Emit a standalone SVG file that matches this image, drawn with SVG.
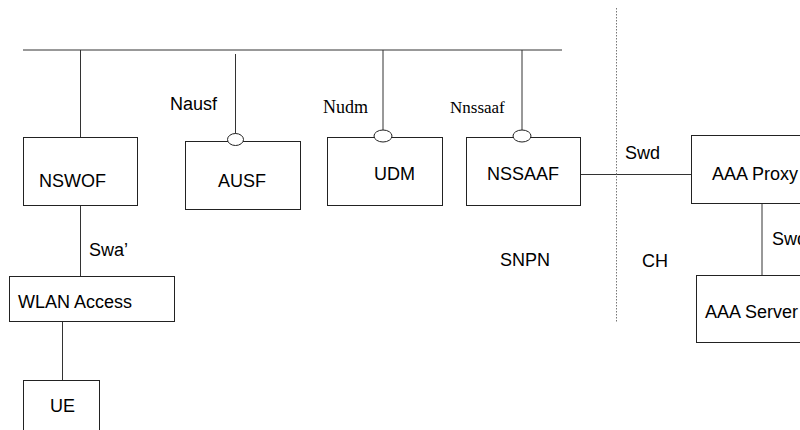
<svg xmlns="http://www.w3.org/2000/svg" width="800" height="430" viewBox="0 0 800 430">
<style>
.box{fill:#fff;stroke:#222;stroke-width:1}
.ln{stroke:#333;stroke-width:1;fill:none}
.port{fill:#fff;stroke:#222;stroke-width:1}
.t{font-family:"Liberation Sans",Arial,sans-serif;font-size:18px;fill:#000}
.s{font-family:"Liberation Serif","Times New Roman",serif;fill:#000}
</style>
<rect width="800" height="430" fill="#fff"/>
<g id="connectors">
<line class="ln" x1="23" y1="50" x2="562" y2="50"/>
<line class="ln" x1="80.5" y1="50" x2="80.5" y2="137"/>
<line class="ln" x1="235.5" y1="54" x2="235.5" y2="134"/>
<line class="ln" x1="383" y1="50" x2="383" y2="130"/>
<line class="ln" x1="522" y1="50" x2="522" y2="130"/>
<line class="ln" x1="80.5" y1="206" x2="80.5" y2="276"/>
<line class="ln" x1="62.5" y1="322" x2="62.5" y2="380"/>
<line class="ln" x1="581" y1="174.5" x2="691" y2="174.5"/>
<line class="ln" x1="762" y1="203" x2="762" y2="275"/>
<line x1="616.5" y1="8" x2="616.5" y2="322" stroke="#777" stroke-width="1" stroke-dasharray="1.5,1.5"/>
<text class="t" x="170" y="110">Nausf</text>
<text class="s" x="323" y="112.5" font-size="18">Nudm</text>
<text class="s" x="450" y="112.5" font-size="17">Nnssaaf</text>
<text class="t" x="89" y="256">Swa’</text>
<text class="t" x="625" y="159">Swd</text>
<text class="t" x="772" y="245">Swd</text>
<text class="t" x="500" y="266">SNPN</text>
<text class="t" x="642" y="267">CH</text>
</g>
<g id="nswof"><rect class="box" x="23.5" y="137.5" width="114" height="68"/><text class="t" x="39" y="187">NSWOF</text></g>
<g id="ausf"><rect class="box" x="185.5" y="141.5" width="115" height="68"/><ellipse class="port" cx="235.5" cy="139.5" rx="8" ry="6"/><text class="t" x="218" y="187">AUSF</text></g>
<g id="udm"><rect class="box" x="327.5" y="137.5" width="115" height="68"/><ellipse class="port" cx="383" cy="136" rx="9" ry="6"/><text class="t" x="374" y="180">UDM</text></g>
<g id="nssaaf"><rect class="box" x="466.5" y="137.5" width="114" height="68"/><ellipse class="port" cx="522" cy="136" rx="9" ry="6"/><text class="t" x="487" y="180">NSSAAF</text></g>
<g id="aaaproxy"><rect class="box" x="691.5" y="135.5" width="120" height="68"/><text class="t" x="712" y="180">AAA Proxy</text></g>
<g id="aaaserver"><rect class="box" x="696.5" y="275.5" width="120" height="67"/><text class="t" x="705" y="318">AAA Server</text></g>
<g id="wlan"><rect class="box" x="9.5" y="276.5" width="165" height="45"/><text class="t" x="18" y="308">WLAN Access</text></g>
<g id="ue"><rect class="box" x="23.5" y="380.5" width="76" height="60"/><text class="t" x="50" y="412">UE</text></g>
</svg>
